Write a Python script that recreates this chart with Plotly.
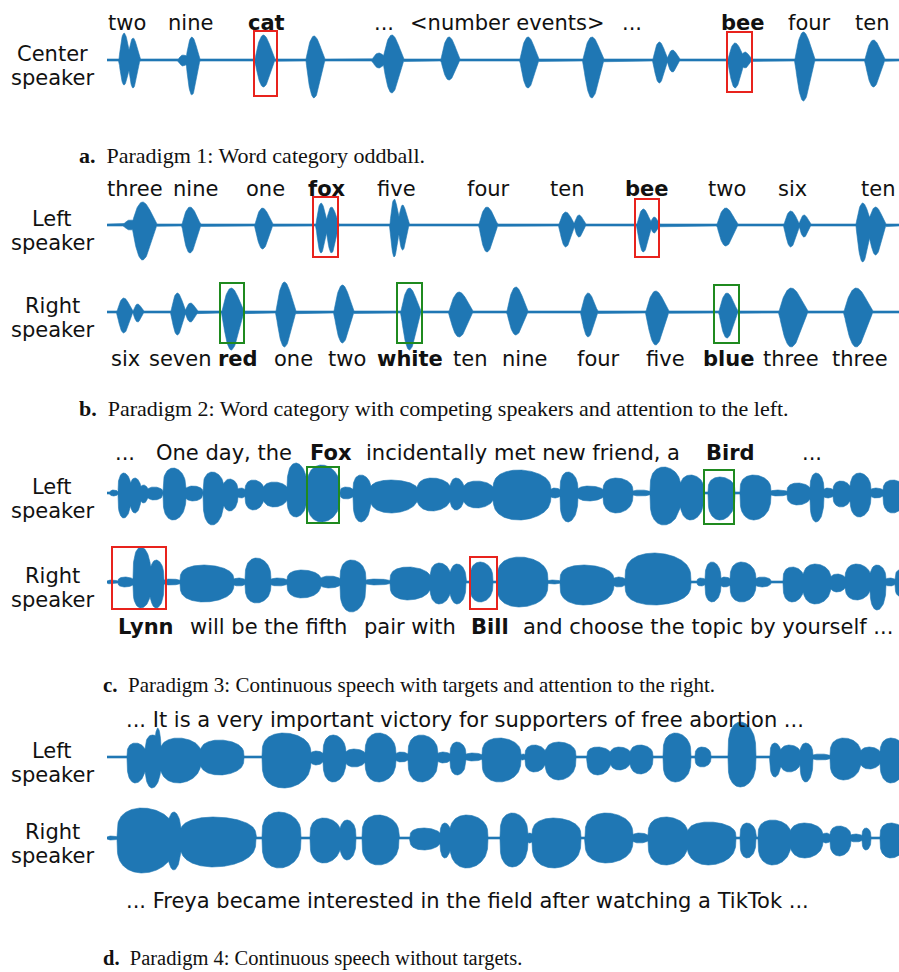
import numpy as np
import plotly.graph_objects as go

# ---------------- data (x in time units = pixel columns, amplitudes in px) -----------------
X_START, X_END = 107, 899
BLUE = "#1f77b4"

# rows: baseline position of each waveform row
row_base = {"a": 60, "bL": 225, "bR": 312, "cL": 493, "cR": 582, "dL": 757, "dR": 838}

# burst segments per row: (start, end, amplitude_up, amplitude_down)
seg_a = [(119, 131, 27, 25), (128, 140, 22, 28), (178, 190, 5, 6), (186, 200, 23, 35),
         (255, 275, 25, 27), (306, 325, 24, 38), (372, 388, 7, 8), (383, 404, 25, 33),
         (441, 460, 23, 20), (520, 539, 23, 28), (583, 604, 23, 38), (653, 668, 18, 23),
         (667, 680, 10, 12), (728, 745, 17, 28), (740, 752, 8, 8), (795, 815, 28, 41),
         (865, 885, 20, 27)]
seg_bL = [(123, 140, 5, 5), (132, 157, 23, 35), (182, 201, 18, 28), (255, 273, 17, 24),
          (316, 328, 22, 28), (326, 339, 18, 28), (390, 400, 26, 32), (398, 409, 20, 25),
          (479, 498, 18, 27), (559, 575, 13, 22), (574, 586, 10, 12), (637, 652, 16, 27),
          (650, 660, 8, 8), (717, 738, 17, 21), (784, 800, 14, 22), (799, 811, 10, 12),
          (856, 872, 22, 37), (868, 886, 18, 30)]
seg_bR = [(117, 133, 14, 21), (133, 144, 8, 10), (171, 186, 19, 23), (185, 198, 9, 10),
          (222, 244, 24, 38), (276, 296, 30, 35), (334, 354, 27, 31), (401, 421, 24, 38),
          (449, 473, 20, 25), (507, 528, 25, 23), (581, 598, 19, 25), (646, 669, 21, 33),
          (719, 738, 19, 26), (779, 808, 24, 35), (844, 873, 24, 35)]
seg_cL = [(110, 118, 3, 3), (118, 131, 20, 25), (130, 141, 15, 20), (140, 148, 8, 10),
          (147, 163, 6, 7), (163, 186, 25, 27), (185, 203, 7, 8), (203, 224, 21, 32),
          (223, 238, 14, 18), (237, 246, 5, 5), (245, 264, 13, 17), (263, 288, 11, 14),
          (287, 307, 30, 24), (307, 340, 28, 29), (340, 354, 6, 6), (353, 371, 18, 29),
          (370, 418, 13, 20), (417, 451, 15, 18), (450, 464, 15, 17), (463, 494, 12, 15),
          (493, 551, 23, 27), (550, 561, 5, 5), (560, 578, 21, 29), (577, 604, 7, 8),
          (603, 633, 15, 20), (632, 651, 3, 3), (650, 681, 26, 32), (680, 704, 18, 27),
          (708, 735, 16, 27), (740, 771, 18, 27), (770, 788, 3, 3), (787, 811, 10, 12),
          (810, 824, 20, 29), (823, 834, 5, 5), (833, 851, 12, 14), (850, 871, 20, 24),
          (870, 884, 5, 5), (883, 905, 13, 20)]
seg_cR = [(107, 118, 2, 2), (118, 134, 5, 5), (133, 151, 35, 26), (150, 164, 22, 26),
          (163, 181, 3, 3), (180, 234, 17, 20), (233, 246, 4, 4), (245, 271, 24, 21),
          (270, 288, 4, 4), (287, 321, 12, 16), (320, 341, 6, 6), (340, 366, 22, 30),
          (365, 391, 3, 3), (390, 431, 15, 18), (430, 451, 19, 22), (450, 466, 18, 22),
          (470, 493, 20, 20), (497, 548, 25, 25), (547, 561, 2, 2), (560, 614, 17, 23),
          (613, 626, 5, 5), (625, 691, 29, 23), (697, 706, 4, 4), (705, 721, 20, 20),
          (720, 731, 5, 5), (730, 756, 20, 20), (755, 771, 5, 5), (783, 804, 15, 20),
          (803, 831, 18, 22), (830, 846, 8, 10), (845, 871, 18, 18), (870, 886, 17, 28),
          (885, 896, 4, 4), (895, 905, 12, 14)]
seg_dL = [(127, 146, 14, 26), (145, 161, 22, 31), (155, 161, 29, 20), (160, 201, 19, 26),
          (200, 244, 17, 18), (262, 311, 24, 31), (310, 324, 6, 8), (323, 346, 22, 25),
          (345, 366, 8, 10), (365, 396, 24, 25), (395, 409, 5, 5), (408, 438, 22, 25),
          (437, 451, 5, 6), (450, 466, 15, 18), (465, 483, 4, 4), (482, 521, 19, 25),
          (520, 526, 3, 3), (525, 546, 12, 15), (545, 576, 15, 23), (587, 611, 10, 18),
          (610, 631, 10, 13), (630, 653, 12, 17), (663, 691, 24, 25), (695, 711, 10, 10),
          (728, 756, 35, 30), (770, 781, 14, 20), (780, 801, 12, 15), (800, 813, 14, 25),
          (812, 831, 3, 3), (830, 861, 19, 23), (860, 881, 10, 12), (880, 905, 19, 26)]
seg_dR = [(107, 118, 2, 2), (117, 174, 30, 35), (168, 181, 26, 32), (180, 256, 21, 29),
          (262, 301, 26, 30), (310, 341, 20, 25), (340, 356, 18, 22), (362, 399, 23, 27),
          (410, 441, 10, 12), (440, 451, 15, 20), (450, 488, 23, 30), (500, 528, 25, 29),
          (527, 533, 5, 5), (532, 581, 20, 30), (585, 633, 25, 25), (632, 649, 5, 5),
          (648, 688, 21, 27), (687, 736, 16, 27), (740, 756, 15, 20), (758, 791, 18, 27),
          (790, 823, 15, 20), (822, 831, 5, 5), (830, 851, 12, 18), (850, 863, 4, 4),
          (862, 871, 10, 12), (880, 905, 15, 20)]

row_segments = {"a": seg_a, "bL": seg_bL, "bR": seg_bR, "cL": seg_cL, "cR": seg_cR,
                "dL": seg_dL, "dR": seg_dR}
# envelope style per row: (skew, sharpness)
row_shape = {"a": (0.8, 1.1), "bL": (0.8, 1.1), "bR": (0.8, 1.1), "cL": (0.85, 0.3),
             "cR": (0.85, 0.3), "dL": (0.85, 0.3), "dR": (0.85, 0.3)}

# target boxes: (x0, x1, y0, y1, colour)
target_boxes = [
    (254, 277, 31, 96, "red"), (727, 752, 32, 92, "red"),
    (313, 338, 197, 257, "red"), (635, 659, 199, 257, "red"),
    (220, 244, 283, 343, "green"), (397, 422, 283, 343, "green"), (714, 739, 285, 343, "green"),
    (307, 339, 467, 523, "green"), (704, 734, 470, 524, "green"),
    (112, 166, 547, 609, "red"), (470, 497, 557, 609, "red"),
]

# word labels: (text, x)
words_a = [("two", 127), ("nine", 190), ("cat", 266), ("...", 384), ("<number events>", 507),
           ("...", 632), ("bee", 743), ("four", 809), ("ten", 872)]
bold_a = {"cat", "bee"}
words_bL = [("three", 135), ("nine", 195), ("one", 265), ("fox", 327), ("five", 396),
            ("four", 488), ("ten", 567), ("bee", 647), ("two", 727), ("six", 792), ("ten", 878)]
bold_bL = {"fox", "bee"}
words_bR = [("six", 125), ("seven", 180), ("red", 238), ("one", 293), ("two", 347),
            ("white", 410), ("ten", 470), ("nine", 524), ("four", 598), ("five", 665),
            ("blue", 728), ("three", 791), ("three", 860)]
bold_bR = {"red", "white", "blue"}
words_cL = [("...", 125), ("One day, the", 224), ("Fox", 331),
            ("incidentally met new friend, a", 523), ("Bird", 730), ("...", 812)]
bold_cL = {"Fox", "Bird"}
words_cR = [("Lynn", 146), ("will be the fifth", 268), ("pair with", 410), ("Bill", 490),
            ("and choose the topic by yourself ...", 708)]
bold_cR = {"Lynn", "Bill"}
words_dL = [("... It is a very important victory for supporters of free abortion ...", 465)]
words_dR = [("... Freya became interested in the field after watching a TikTok ...", 467)]

word_rows = [(words_a, bold_a, 23), (words_bL, bold_bL, 189), (words_bR, bold_bR, 359),
             (words_cL, bold_cL, 453), (words_cR, bold_cR, 627), (words_dL, set(), 720),
             (words_dR, set(), 901)]

row_labels = [("Center", "speaker", 60), ("Left", "speaker", 225), ("Right", "speaker", 312),
              ("Left", "speaker", 493), ("Right", "speaker", 582), ("Left", "speaker", 757),
              ("Right", "speaker", 838)]

# captions: (label, text, x, y, font size)
captions = [("a.", "Paradigm 1: Word category oddball.", 77, 155, 22),
            ("b.", "Paradigm 2: Word category with competing speakers and attention to the left.", 77, 408, 22),
            ("c.", "Paradigm 3: Continuous speech with targets and attention to the right.", 101, 685, 21),
            ("d.", "Paradigm 4: Continuous speech without targets.", 101, 958, 20.5)]

# ---------------- figure -----------------
fig = go.Figure()
xs = np.arange(X_START, X_END + 0.5, 0.5)

for key, segs in row_segments.items():
    base = row_base[key]
    k, p = row_shape[key]
    up = np.full_like(xs, 1.0)
    dn = np.full_like(xs, 1.0)
    for (x0, x1, au, ad) in segs:
        t = (xs - x0) / (x1 - x0)
        m = (t >= 0) & (t <= 1)
        env = np.zeros_like(xs)
        env[m] = np.sin(np.pi * t[m] ** k) ** p
        up = np.maximum(up, au * env)
        dn = np.maximum(dn, ad * env)
    px = np.concatenate([xs, xs[::-1]])
    py = np.concatenate([base - up, (base + dn)[::-1]])
    fig.add_trace(go.Scatter(x=px, y=py, mode="lines", fill="toself", fillcolor=BLUE,
                             line=dict(color=BLUE, width=0.6), hoverinfo="skip",
                             showlegend=False))
    fig.add_trace(go.Scatter(x=[X_START, X_END], y=[base, base], mode="lines",
                             line=dict(color=BLUE, width=2), hoverinfo="skip", showlegend=False))

box_col = {"red": "#e8231d", "green": "#1f8a1f"}
for (x0, x1, y0, y1, c) in target_boxes:
    fig.add_shape(type="rect", x0=x0, x1=x1, y0=y0, y1=y1, xref="x", yref="y",
                  line=dict(color=box_col[c], width=2), fillcolor="rgba(0,0,0,0)")

WORD_FONT = "DejaVu Sans"
for words, bolds, y in word_rows:
    for (w, x) in words:
        txt = f"<b>{w}</b>" if w in bolds else w
        fig.add_annotation(x=x, y=y, text=txt, showarrow=False, xanchor="center",
                           yanchor="middle", font=dict(family=WORD_FONT, size=21, color="#111"))

for (l1, l2, base) in row_labels:
    fig.add_annotation(x=52, y=base - 6, text=l1, showarrow=False, xanchor="center",
                       yanchor="middle", font=dict(family=WORD_FONT, size=21, color="#111"))
    fig.add_annotation(x=52, y=base + 18, text=l2, showarrow=False, xanchor="center",
                       yanchor="middle", font=dict(family=WORD_FONT, size=21, color="#111"))

for (lab, text, x, y, fs) in captions:
    fig.add_annotation(x=x, y=y, text=f"<b>{lab}</b>\u2002{text}", showarrow=False,
                       xanchor="left", yanchor="middle",
                       font=dict(family="Liberation Serif", size=fs, color="#111"))

fig.update_xaxes(range=[0, 899], visible=False)
fig.update_yaxes(range=[972, 0], visible=False)
fig.update_layout(width=899, height=972, margin=dict(l=0, r=0, t=0, b=0),
                  plot_bgcolor="white", paper_bgcolor="white", hovermode=False)

fig.write_html("out.html", config={"displayModeBar": False, "staticPlot": True},
               post_script="document.body.style.margin='0';document.body.style.overflow='hidden';")
